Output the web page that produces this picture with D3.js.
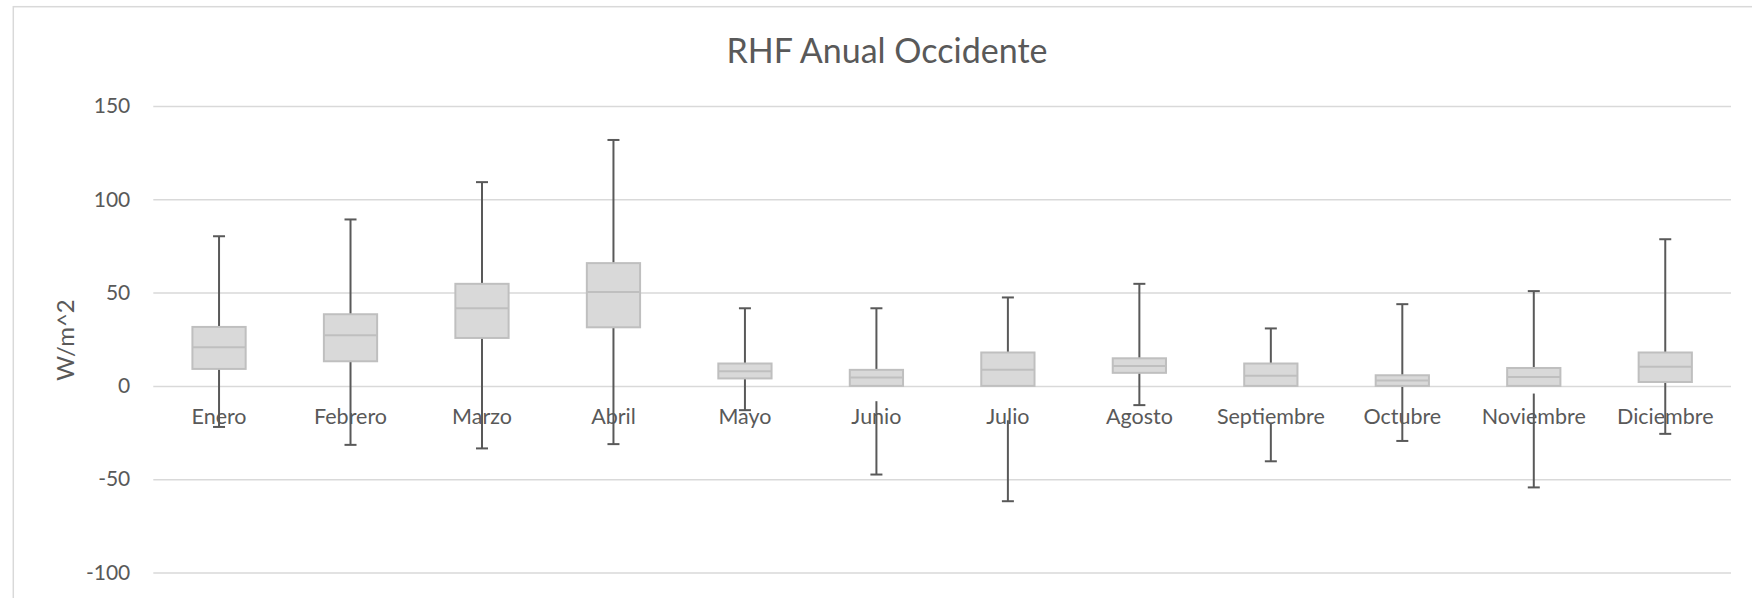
<!DOCTYPE html>
<html>
<head>
<meta charset="utf-8">
<script src="https://cdn.jsdelivr.net/npm/d3@7"></script>
<style>
  body { margin: 0; background: #fff; }
  svg { display: block; }
  text { font-family: Lato, "Open Sans", sans-serif; fill: #595959; }
</style>
</head>
<body>
<svg id="chart" width="1752" height="598"></svg>
<script>
// Monthly distribution of RHF (W/m^2)
const months = ["Enero", "Febrero", "Marzo", "Abril", "Mayo", "Junio",
                "Julio", "Agosto", "Septiembre", "Octubre", "Noviembre", "Diciembre"];
const maxVals    = [80.2, 89.2, 109.2, 131.8, 41.6, 41.6, 47.4, 54.7, 30.8, 43.8, 50.8, 78.6];
const q3Vals     = [31.6, 38.4, 54.7, 65.8, 12.0, 8.6, 17.9, 14.8, 12.0, 5.7, 9.6, 17.9];
const medianVals = [20.7, 27.2, 41.6, 50.3, 7.9, 4.5, 8.6, 10.6, 5.4, 2.9, 4.8, 10.2];
const q1Vals     = [9.1, 13.2, 25.7, 31.4, 4.0, -8.2, -18.4, 7.0, -19.8, -0.5, -4.1, 2.1];
const minVals    = [-22.0, -31.6, -33.5, -31.2, -13.0, -47.5, -61.8, -10.3, -40.4, -29.5, -54.4, -25.7];
const yTicks = [-100, -50, 0, 50, 100, 150];
const chartTitle = "RHF Anual Occidente";
const yAxisTitle = "W/m^2";

const svg = d3.select("#chart");
const plotLeft = 153.3, plotRight = 1731, plotTop = 106, plotBottom = 572.5;

const x = d3.scaleBand().domain(months).range([plotLeft, plotRight]).padding(0);
const y = d3.scaleLinear().domain([-100, 150]).range([plotBottom, plotTop]);

const gridColor = "#d9d9d9";
const whiskerColor = "#595959";
const boxFill = "#d9d9d9";
const boxStroke = "#bfbfbf";

// Chart frame
svg.append("rect")
  .attr("x", 13.3).attr("y", 6.7)
  .attr("width", 1800).attr("height", 700)
  .attr("fill", "none").attr("stroke", gridColor).attr("stroke-width", 1.5);

// Title
svg.append("text")
  .attr("x", 887).attr("y", 63)
  .attr("text-anchor", "middle")
  .style("font-size", "34px")
  .text(chartTitle);

// Value axis with gridlines (plain hyphen for negatives)
const yAxis = svg.append("g")
  .attr("transform", `translate(${plotLeft},0)`)
  .call(d3.axisLeft(y).tickValues(yTicks).tickFormat(d => String(d))
    .tickSize(-(plotRight - plotLeft)).tickPadding(23));
yAxis.select(".domain").remove();
yAxis.selectAll(".tick line").attr("stroke", gridColor).attr("stroke-width", 1.5);
yAxis.selectAll(".tick text").attr("fill", "#595959").style("font-size", "21px")
  .style("font-family", "Lato, 'Open Sans', sans-serif");

// Axis title
svg.append("text")
  .attr("transform", "translate(74,340) rotate(-90)")
  .attr("text-anchor", "middle")
  .style("font-size", "24px")
  .text(yAxisTitle);

const data = months.map((m, i) => ({
  m, max: maxVals[i], q3: q3Vals[i], med: medianVals[i], q1: q1Vals[i], min: minVals[i]
}));

const boxW = x.bandwidth() * 0.405;
const capW = 12;
const cx = d => x(d.m) + x.bandwidth() / 2;

const g = svg.append("g");

// Whiskers
const whisk = g.append("g").attr("stroke", whiskerColor).attr("stroke-width", 2);
data.forEach(d => {
  whisk.append("line").attr("x1", cx(d)).attr("x2", cx(d)).attr("y1", y(d.q3)).attr("y2", y(d.max));
  whisk.append("line").attr("x1", cx(d) - capW / 2).attr("x2", cx(d) + capW / 2).attr("y1", y(d.max)).attr("y2", y(d.max));
  whisk.append("line").attr("x1", cx(d)).attr("x2", cx(d)).attr("y1", y(d.q1)).attr("y2", y(d.min));
  whisk.append("line").attr("x1", cx(d) - capW / 2).attr("x2", cx(d) + capW / 2).attr("y1", y(d.min)).attr("y2", y(d.min));
});

// Boxes (drawn up from the zero baseline when the lower quartile is negative)
g.selectAll("rect.box").data(data).join("rect")
  .attr("class", "box")
  .attr("x", d => cx(d) - boxW / 2)
  .attr("width", boxW)
  .attr("y", d => y(d.q3))
  .attr("height", d => y(Math.max(d.q1, 0)) - y(d.q3))
  .attr("fill", boxFill)
  .attr("stroke", boxStroke)
  .attr("stroke-width", 2);

g.selectAll("line.median").data(data).join("line")
  .attr("class", "median")
  .attr("x1", d => cx(d) - boxW / 2).attr("x2", d => cx(d) + boxW / 2)
  .attr("y1", d => y(d.med)).attr("y2", d => y(d.med))
  .attr("stroke", boxStroke).attr("stroke-width", 2);

// Category axis crossing at zero
const xAxis = svg.append("g")
  .attr("transform", `translate(0,${y(0)})`)
  .call(d3.axisBottom(x).tickSize(0));
xAxis.select(".domain").remove();
xAxis.selectAll(".tick text")
  .attr("y", 38.3).attr("dy", 0)
  .attr("fill", "#595959").style("font-size", "21.5px")
  .style("font-family", "Lato, 'Open Sans', sans-serif");
</script>
</body>
</html>
